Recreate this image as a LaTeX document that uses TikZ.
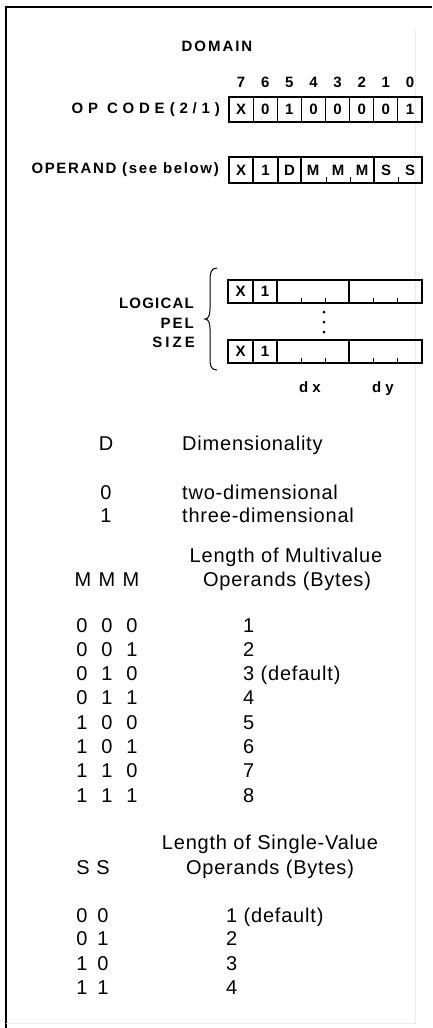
\documentclass[tikz,border=0pt]{standalone}
\usepackage{fontspec}
\setmainfont{Liberation Sans}
\newfontfamily\labf{Liberation Sans}
\newfontfamily\cellfont{Liberation Sans}
\newfontfamily\tabf{Liberation Sans}[LetterSpace=4]
\begin{document}
\begin{tikzpicture}[x=1pt,y=-1pt,
  lab/.style={font=\labf\bfseries\fontsize{15}{17}\selectfont\addfontfeature{LetterSpace=#1}, inner sep=0pt},
  lab/.default=13,
  tab/.style={font=\tabf\fontsize{20}{22}\selectfont, inner sep=0pt},
  cell/.style={draw, line width=1.2pt, inner sep=0pt, font=\cellfont\bfseries\fontsize{15}{17}\selectfont},
  tick/.style={line width=1pt},
  frame/.style={line width=1.4pt}]
\useasboundingbox (0,0) rectangle (432,1028);
% frame
\draw[frame] (6,1028) -- (6,7) -- (432,7);
\draw[black!8, line width=1pt] (6,1023) -- (415,1023) -- (415,30);
% header
\node[lab] (domain) at (217,46) {DOMAIN};
\foreach \i in {0,...,7}{
  \pgfmathtruncatemacro\b{7-\i}
  \node[lab] (bit\i) at ({241.06+24.125*\i},82) {\b};
}
\node[lab=32, anchor=east] (opcode) at (220,110) {OP CODE\hspace{5pt}(2/1)};
\foreach \v [count=\i from 0] in {X,0,1,0,0,0,0,1}{
  \node[cell, minimum width=24.125pt, minimum height=25pt] (op\i) at ({241.06+24.125*\i},109.5) {\v};
}
% operand
\node[lab=11, anchor=east] (operand) at (219,170) {OPERAND (see below)};
\node[cell, minimum width=24pt, minimum height=26pt] (ox) at (241,170) {X};
\node[cell, minimum width=25pt, minimum height=26pt] (o1) at (265.5,170) {1};
\node[cell, minimum width=23pt, minimum height=26pt] (od) at (289.5,170) {D};
\node[cell, minimum width=73pt, minimum height=26pt] (om) at (337.5,170) {};
\node[cell, minimum width=48pt, minimum height=26pt] (os) at (398,170) {};
\foreach \x/\n in {313/a,338/b,362/c}{\node[cell, draw=none] (m\n) at (\x,170) {M};}
\foreach \x/\n in {386/a,410/b}{\node[cell, draw=none] (s\n) at (\x,170) {S};}
\foreach \x in {326,350,398}{\draw[tick] (\x,183) -- (\x,177);}
% logical pel size
\foreach \y/\r in {291.5/a,351.5/b}{
  \node[cell, minimum width=25pt, minimum height=23pt] (px\r) at (240.5,\y) {X};
  \node[cell, minimum width=24pt, minimum height=23pt] (p1\r) at (265,\y) {1};
  \node[cell, minimum width=72pt, minimum height=23pt] (pdx\r) at (313,\y) {};
  \node[cell, minimum width=73pt, minimum height=23pt] (pdy\r) at (385.5,\y) {};
  \foreach \x in {301,325,373,397}{\draw[tick] (\x,\y+11.5) -- (\x,\y+6.5);}
}
\foreach \y in {312,322,332}{\fill (324,\y) circle[radius=1.5pt];}
\draw[line width=1pt] (217,268) .. controls (211,268) and (210,273) .. (210,281)
  -- (210,309) .. controls (210,316) and (208,319) .. (205,319)
  .. controls (208,319) and (210,322) .. (210,329)
  -- (210,358) .. controls (210,366) and (211,370) .. (217,370);
\node[lab=8, anchor=east] (logical) at (194,303) {LOGICAL};
\node[lab=13, anchor=east] (pel) at (194,323) {PEL};
\node[lab=20, anchor=east] (size) at (195,342) {SIZE};
\node[lab=0, anchor=base] (dx) at (310,392) {d x};
\node[lab=0, anchor=base] (dy) at (383,392) {d y};
% D table
\node[tab, anchor=base] (dh) at (106,450) {D};
\node[tab, anchor=base west] (dimh) at (182,450) {Dimensionality};
\node[tab, anchor=base] (d0) at (106,499) {0};
\node[tab, anchor=base west] (d0t) at (182,499) {two-dimensional};
\node[tab, anchor=base] (d1) at (106,522) {1};
\node[tab, anchor=base west] (d1t) at (182,522) {three-dimensional};
% MMM table
\node[tab, anchor=base] (mh1) at (286,562) {Length of Multivalue};
\node[tab, anchor=base] (mh2) at (287,586) {Operands (Bytes)};
\node[tab, anchor=base] (mma) at (83,586) {M};
\node[tab, anchor=base] (mmb) at (107,586) {M};
\node[tab, anchor=base] (mmc) at (131,586) {M};
\foreach \a/\b/\c/\v [count=\i] in {0/0/0/1,0/0/1/2,0/1/0/3 (default),0/1/1/4,1/0/0/5,1/0/1/6,1/1/0/7,1/1/1/8}{
  \pgfmathsetmacro\yy{632+24.3*(\i-1)}
  \node[tab, anchor=base] (ma\i) at (82,\yy) {\a};
  \node[tab, anchor=base] (mb\i) at (107,\yy) {\b};
  \node[tab, anchor=base] (mc\i) at (132,\yy) {\c};
  \node[tab, anchor=base west] (mv\i) at (243,\yy) {\v};
}
% SS table
\node[tab, anchor=base] (sh1) at (270,849) {Length of Single-Value};
\node[tab, anchor=base] (sh2) at (270,874) {Operands (Bytes)};
\node[tab, anchor=base] (ssa) at (83,874) {S};
\node[tab, anchor=base] (ssb) at (103,874) {S};
\foreach \a/\b/\v/\yy [count=\i] in {0/0/1 (default)/922,0/1/2/945,1/0/3/970,1/1/4/994}{
  \node[tab, anchor=base] (sa\i) at (82,\yy) {\a};
  \node[tab, anchor=base] (sb\i) at (103,\yy) {\b};
  \node[tab, anchor=base west] (sv\i) at (226,\yy) {\v};
}
\end{tikzpicture}
\end{document}
